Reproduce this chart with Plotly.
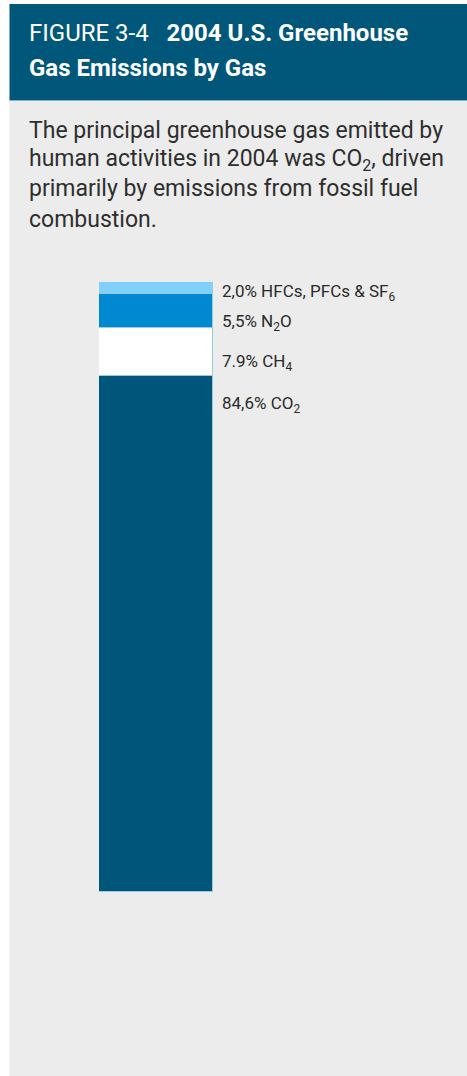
import plotly.graph_objects as go

W, H = 467, 1076

gases = ["CO2", "CH4", "N2O", "HFCs"]
shares = [84.6, 7.9, 5.5, 2.0]
labels = ["84,6% CO<sub>2</sub>", "7.9% CH<sub>4</sub>", "5,5% N<sub>2</sub>O",
          "2,0% HFCs, PFCs & SF<sub>6</sub>"]
colors = ["#00567a", "#ffffff", "#0089d0", "#80d0fc"]
label_shift = [-29, -35, -28, -10]  # px offset of label from segment top

title_lines = ["FIGURE 3-4   <b>2004 U.S. Greenhouse</b>", "<b>Gas Emissions by Gas</b>"]
sub_lines = ["The principal greenhouse gas emitted by",
             "human activities in 2004 was CO<sub>2</sub>, driven",
             "primarily by emissions from fossil fuel",
             "combustion."]

FONT = "Roboto, 'DejaVu Sans', sans-serif"

def py(p):
    return 1 - p / H

fig = go.Figure()
for g, s, c in zip(gases, shares, colors):
    fig.add_trace(go.Bar(x=[0], y=[s], name=g, width=1,
                         marker=dict(color=c, line=dict(color="#9ccbe0", width=1)),
                         showlegend=False, hoverinfo="skip"))

annotations = []
cum = 0
for s, lab, sh in zip(shares, labels, label_shift):
    cum += s
    annotations.append(dict(x=0.5, y=cum, xref="x", yref="y", xanchor="left",
                            yanchor="middle", xshift=7, yshift=sh, text=lab,
                            showarrow=False,
                            font=dict(family=FONT, size=17, color="#2a2a2a")))

title_y = [33, 68]
for t, yy in zip(title_lines, title_y):
    annotations.append(dict(x=27 / W, y=py(yy), xref="paper", yref="paper", xanchor="left",
                            yanchor="middle", text=t, showarrow=False,
                            font=dict(family=FONT, size=24, color="#ffffff")))
sub_y = [131, 160, 189, 219]
for t, yy in zip(sub_lines, sub_y):
    annotations.append(dict(x=27 / W, y=py(yy), xref="paper", yref="paper", xanchor="left",
                            yanchor="middle", text=t, showarrow=False,
                            font=dict(family=FONT, size=23, color="#2e2e2e")))

shapes = [
    dict(type="rect", xref="paper", yref="paper", x0=9.5 / W, x1=1, y0=0, y1=py(4),
         fillcolor="#ececec", line=dict(width=0), layer="below"),
    dict(type="rect", xref="paper", yref="paper", x0=9.5 / W, x1=1, y0=py(100), y1=py(4),
         fillcolor="#00577a", line=dict(width=0), layer="below"),
    dict(type="line", xref="paper", yref="paper", x0=9.5 / W, x1=1, y0=py(100.5), y1=py(100.5),
         line=dict(color="#7fb2c8", width=1), layer="below"),
]

fig.update_layout(
    width=W, height=H, margin=dict(l=0, r=0, t=0, b=0),
    paper_bgcolor="#ffffff", plot_bgcolor="rgba(0,0,0,0)",
    barmode="stack", bargap=0,
    xaxis=dict(domain=[99 / W, 213 / W], range=[-0.5, 0.5], visible=False, fixedrange=True),
    yaxis=dict(domain=[py(892), py(282)], range=[0, 100], visible=False, fixedrange=True),
    annotations=annotations, shapes=shapes,
)

fig.write_html("out.html")
